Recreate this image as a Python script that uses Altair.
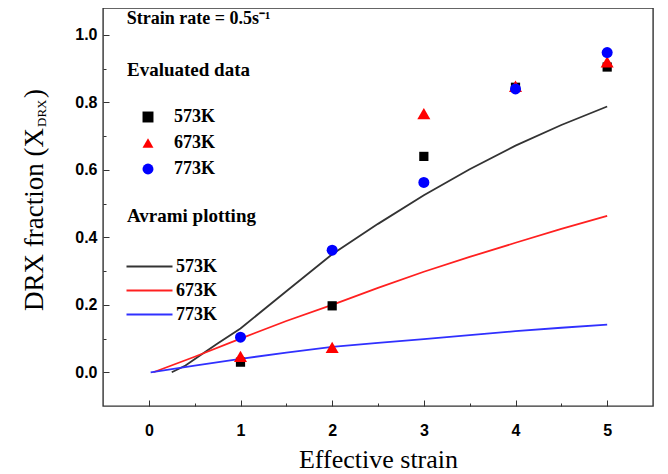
import altair as alt
import pandas as pd

temps = ["573K", "673K", "773K"]
avrami_keys = ["573K (Avrami)", "673K (Avrami)", "773K (Avrami)"]

# Evaluated data (points)
strain_pts = [1, 2, 3, 4, 5]
eval_573 = [0.030, 0.197, 0.640, 0.845, 0.905]
eval_673 = [0.047, 0.074, 0.767, 0.848, 0.920]
eval_773 = [0.104, 0.362, 0.563, 0.840, 0.948]
marker_area = [85, 170, 121]

# Avrami plotting (curves)
av_573_x = [0.25, 0.40, 0.55, 0.75, 1.0, 1.5, 2.0, 2.5, 3.0, 3.5, 4.0, 4.5, 5.0]
av_573_y = [0.0, 0.020, 0.048, 0.085, 0.130, 0.240, 0.350, 0.440, 0.525, 0.602, 0.672, 0.733, 0.788]
av_673_x = [0.05, 0.5, 1.0, 1.5, 2.0, 2.5, 3.0, 3.5, 4.0, 4.5, 5.0]
av_673_y = [0.0, 0.046, 0.100, 0.152, 0.200, 0.250, 0.298, 0.342, 0.384, 0.425, 0.464]
av_773_x = [0.02, 0.5, 1.0, 1.5, 2.0, 2.5, 3.0, 3.5, 4.0, 4.5, 5.0]
av_773_y = [0.0, 0.020, 0.040, 0.058, 0.075, 0.087, 0.098, 0.110, 0.122, 0.132, 0.141]

x_major = [0, 1, 2, 3, 4, 5]
x_minor = [0.5, 1.5, 2.5, 3.5, 4.5]
y_major = [0.0, 0.2, 0.4, 0.6, 0.8, 1.0]
y_minor = [0.1, 0.3, 0.5, 0.7, 0.9]

annot_text = ["Strain rate = 0.5s\u207b\u00b9"]
annot_x = [-0.24]
annot_y = [1.047]

pts_rows = []
for t, ys, sz in zip(temps, [eval_573, eval_673, eval_773], marker_area):
    for x, y in zip(strain_pts, ys):
        pts_rows.append({"strain": x, "frac": y, "evaluated": t, "sz": sz})
df_pts = pd.DataFrame(pts_rows)

line_rows = []
for t, xs, ys in zip(avrami_keys, [av_573_x, av_673_x, av_773_x], [av_573_y, av_673_y, av_773_y]):
    for x, y in zip(xs, ys):
        line_rows.append({"strain": x, "frac": y, "avrami": t})
df_lines = pd.DataFrame(line_rows)

df_annot = pd.DataFrame({"x": annot_x, "y": annot_y, "label": annot_text})

W, H = 550, 398
SERIF = "Liberation Serif"
SANS = "Liberation Sans"

xscale = alt.Scale(domain=[-0.5, 5.5], nice=False, zero=False)
yscale = alt.Scale(domain=[-0.1, 1.08], nice=False, zero=False)

leg_common = dict(
    orient="none", padding=0,
    titleFont=SERIF, titleFontSize=19, titleFontWeight="bold", titleColor="black",
    labelFont=SERIF, labelFontSize=18, labelFontWeight="bold", labelColor="black",
)

pts_legend = alt.Legend(
    title="Evaluated data", legendX=24, legendY=53,
    titlePadding=28, rowPadding=8, symbolOffset=12, labelOffset=17,
    symbolSize=120, **leg_common,
)
line_legend = alt.Legend(
    title="Avrami plotting", legendX=24, legendY=199,
    titlePadding=28, rowPadding=2, symbolType="M-2,0H2", symbolSize=529,
    symbolStrokeWidth=2, symbolOffset=10, labelOffset=14,
    labelExpr="split(datum.label, ' ')[0]", **leg_common,
)

lines = alt.Chart(df_lines).mark_line(strokeWidth=1.8).encode(
    x=alt.X("strain:Q", scale=xscale, axis=alt.Axis(
        orient="bottom", values=x_major, format="d", ticks=False, domain=False, grid=False,
        labelFont=SANS, labelFontSize=16, labelFontWeight="bold", labelColor="black", labelPadding=16,
        title="Effective strain", titleFont=SERIF, titleFontSize=26, titleFontWeight="normal",
        titleColor="black", titlePadding=8)),
    y=alt.Y("frac:Q", scale=yscale, axis=alt.Axis(
        orient="left", values=y_major, format=".1f", ticks=False, domain=False, grid=False,
        labelFont=SANS, labelFontSize=16, labelFontWeight="bold", labelColor="black", labelPadding=6,
        title=None)),
    stroke=alt.Stroke("avrami:N", scale=alt.Scale(domain=avrami_keys, range=["#333333", "#ff2020", "#3030ff"]),
                      legend=line_legend),
    order="strain:Q",
)

points = alt.Chart(df_pts).mark_point(filled=True, opacity=1, strokeWidth=0).encode(
    x=alt.X("strain:Q", scale=xscale, axis=alt.Axis(
        orient="top", offset=-H, values=x_major, labels=False, domain=False, grid=False,
        ticks=True, tickSize=6, tickColor="#333", title=None)),
    y=alt.Y("frac:Q", scale=yscale, axis=alt.Axis(
        orient="right", offset=-W, values=y_major, labels=False, domain=False, grid=False,
        ticks=True, tickSize=6, tickColor="#333", title=None)),
    fill=alt.Fill("evaluated:N", scale=alt.Scale(domain=temps, range=["#000000", "#ff0000", "#0000ff"]),
                  legend=pts_legend),
    shape=alt.Shape("evaluated:N", scale=alt.Scale(domain=temps, range=["square", "triangle-up", "circle"]),
                    legend=pts_legend),
    size=alt.Size("sz:Q", scale=None),
)

annot = alt.Chart(df_annot).mark_text(
    align="left", baseline="middle", font=SERIF, fontSize=18, fontWeight="bold", color="black"
).encode(
    x=alt.X("x:Q", scale=xscale, axis=alt.Axis(
        orient="top", offset=-H, values=x_minor, labels=False, domain=False, grid=False,
        ticks=True, tickSize=3, tickColor="#333", title=None)),
    y=alt.Y("y:Q", scale=yscale, axis=alt.Axis(
        orient="right", offset=-W, values=y_minor, labels=False, domain=False, grid=False,
        ticks=True, tickSize=3, tickColor="#333", title=None)),
    text="label:N",
)

ytitle_main = alt.Chart(pd.DataFrame({"t": ["DRX fraction (X"]})).mark_text(
    angle=270, align="right", baseline="middle", font=SERIF, fontSize=27, color="black"
).encode(text="t:N", x=alt.value(-68), y=alt.value(120))
ytitle_sub = alt.Chart(pd.DataFrame({"t": ["DRX"]})).mark_text(
    angle=270, align="left", baseline="middle", font=SERIF, fontSize=13, color="black"
).encode(text="t:N", x=alt.value(-61), y=alt.value(119))
ytitle_end = alt.Chart(pd.DataFrame({"t": [")"]})).mark_text(
    angle=270, align="left", baseline="middle", font=SERIF, fontSize=27, color="black"
).encode(text="t:N", x=alt.value(-68), y=alt.value(90))

chart = alt.layer(lines, points, annot, ytitle_main, ytitle_sub, ytitle_end).resolve_scale(
    x="independent", y="independent"
).properties(
    width=W, height=H,
    autosize=alt.AutoSizeParams(type="none"),
    padding={"left": 95, "top": 0, "right": 7, "bottom": 66},
).configure_view(stroke="#333333", strokeWidth=1.4).configure_axis(grid=False)

chart.save("out.html", embed_options={"renderer": "svg", "actions": False})
